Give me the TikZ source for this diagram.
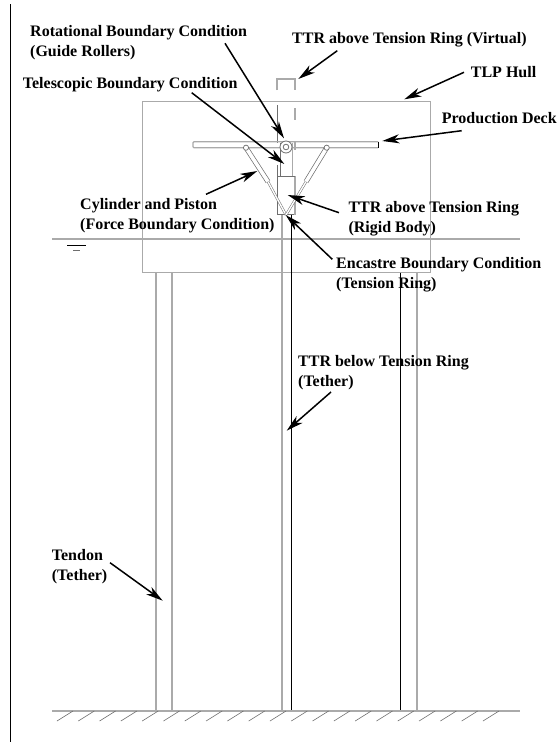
\documentclass[tikz,border=0pt]{standalone}
\usepackage{fontspec}
\setmainfont{Liberation Serif}
\usepackage{xcolor}
\usetikzlibrary{arrows.meta, calc}
\definecolor{TLPGray}{RGB}{170, 170, 170}
\definecolor{TLPDark}{RGB}{110, 110, 110}
\tikzset{
  labeltxt/.style={anchor=base west, inner sep=0pt, align=left, font=\fontsize{16}{20}\selectfont\bfseries},
  grayline/.style={TLPGray, line width=1.2pt},
  darkline/.style={TLPDark, line width=1pt},
  blackline/.style={black, line width=0.9pt},
  callout/.style={-{Stealth[length=17pt,width=9pt,inset=5pt]}, black, line width=1.5pt}
}
\begin{document}
\begin{tikzpicture}[x=1pt,y=-1pt]
  \path[use as bounding box] (0,0) rectangle (557,742);
  \fill[white] (0,0) rectangle (557,742);
  % page edge
  \draw[black, line width=1pt] (10.7,4) -- (10.7,742);
  % water and hull
  \draw[grayline] (52,239) -- (520,239);
  \draw[black, line width=0.7pt] (67,245) -- (86,245);
  \draw[TLPDark, line width=0.7pt] (73,250.7) -- (80,250.7);
  \draw[grayline] (142.5,101.5) rectangle (430.5,272.7);
  % tethers
  \foreach \x in {156,172,417}{
    \draw[grayline] (\x,272.7) -- (\x,711);
  }
  \draw[grayline] (282,215) -- (282,711);
  \draw[blackline] (291,215) -- (291,711);
  \draw[blackline] (400,272.7) -- (400,711);
  % seabed
  \draw[grayline] (52,711) -- (520,711);
  \foreach \x in {57,78.3,...,484}{
    \draw[TLPDark, line width=0.6pt] (\x,721) -- (\x+16,711);
  }
  % riser above the ring
  \draw[grayline] (277,90) -- (277,79) -- (295,79) -- (295,90);
  \draw[grayline] (295,108) -- (295,120);
  \draw[darkline] (277,105) -- (277,143);
  \draw[darkline] (277,165) -- (277,214.5) -- (295,214.5);
  \draw[grayline] (295,141) -- (295,150);
  \draw[grayline] (295,176) -- (295,214.5);
  \draw[darkline] (280,143) -- (280,176);
  \draw[grayline] (292.5,143) -- (292.5,176);
  \draw[darkline] (277,176) -- (295,176);
  % deck
  \draw[grayline, rounded corners=1pt] (378,141.7) -- (193,141.7) -- (193,147.7) -- (378,147.7);
  \draw[black, line width=1pt] (378,141.7) -- (378,147.7);
  % roller
  \filldraw[fill=white, draw=TLPDark, line width=0.8pt] (286,147) circle (6);
  \draw[TLPDark, line width=0.8pt] (286,147) circle (2.8);
  % cylinders
  \foreach \xa/\xb in {246/268,326.7/306}{
    \draw[TLPDark, line width=0.7pt, double=white, double distance=3.6pt] (\xa,147.7) -- (\xb,181.7);
    \draw[TLPDark, line width=0.5pt, double=white, double distance=1.4pt] (\xb,181.7) -- (286,215);
    \filldraw[fill=white, draw=TLPDark, line width=0.7pt] (\xa,147.7) circle (2.6);
  }
  % labels
  \node[labeltxt] (lblVirtual) at (292,43.3) {TTR above Tension Ring (Virtual)};
  \node[labeltxt] (lblHull) at (470.7,77.7) {TLP Hull};
  \node[labeltxt] (lblDeck) at (441.7,123.3) {Production Deck};
  \node[labeltxt] (lblRotational) at (30,56.7) {Rotational Boundary Condition\\(Guide Rollers)};
  \node[labeltxt] (lblTelescopic) at (22.7,88.3) {Telescopic Boundary Condition};
  \node[labeltxt] (lblCylinder) at (80,229.3) {Cylinder and Piston\\(Force Boundary Condition)};
  \node[labeltxt] (lblRigid) at (348.3,232.7) {TTR above Tension Ring\\(Rigid Body)};
  \node[labeltxt] (lblEncastre) at (336,288.3) {Encastre Boundary Condition\\(Tension Ring)};
  \node[labeltxt] (lblBelow) at (298,386.7) {TTR below Tension Ring\\(Tether)};
  \node[labeltxt] (lblTendon) at (51.7,580.5) {Tendon\\(Tether)};
  % callouts
  \foreach \nm/\xa/\ya/\xb/\yb in {Virtual/337.3/50.7/298.3/79, Hull/464/72.3/404.3/99.3,
      Deck/461.7/130.7/382.3/141, Rotational/225/43.3/284/138.3, Telescopic/191.7/92.7/284.3/164,
      Cylinder/206/194.3/257.3/171, Rigid/339/212.7/287.7/195, Encastre/332.3/259.3/285.7/215,
      Below/331/392/286.7/430.7, Tendon/110/562.7/162.7/600.7}{
    \coordinate (tail\nm) at (\xa,\ya);
    \coordinate (head\nm) at (\xb,\yb);
    \draw[callout] (tail\nm) -- (head\nm);
  }
\end{tikzpicture}
\end{document}
